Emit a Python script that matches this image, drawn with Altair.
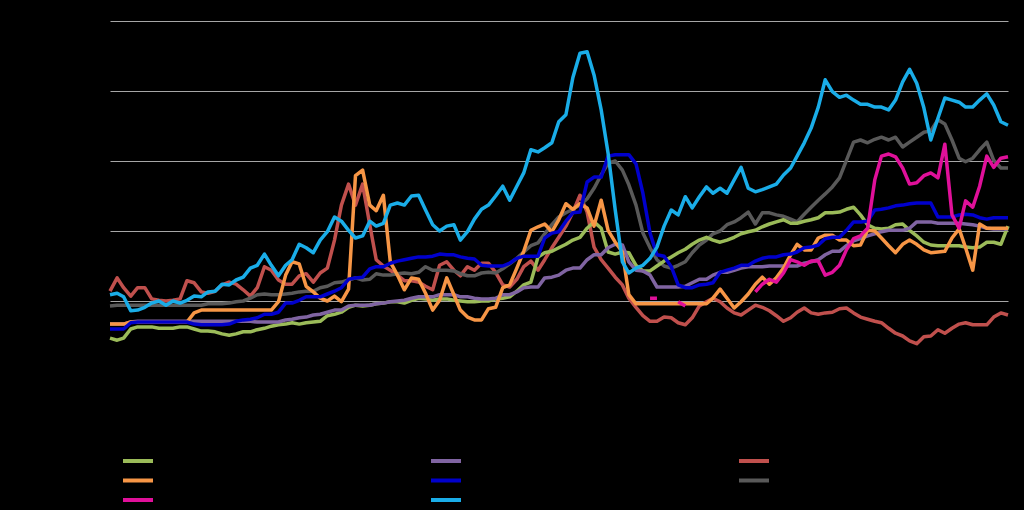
import altair as alt
import pandas as pd

months = pd.date_range("2003-01-01", periods=129, freq="MS").strftime("%Y-%m-%d").tolist()

series_names = ["Series 1", "Series 2", "Series 3", "Series 4",
                "Series 5", "Series 6", "Series 7", "Series 8"]

s1_green = [4.7, 4.4, 4.7, 6.0, 6.3, 6.3, 6.3, 6.1, 6.1, 6.1, 6.3, 6.3, 6.0, 5.7, 5.7, 5.6, 5.3, 5.1, 5.3, 5.6,
            5.6, 5.9, 6.1, 6.4, 6.6, 6.7, 6.9, 6.7, 6.9, 7.0, 7.1, 7.9, 8.1, 8.4, 9.1, 9.4, 9.3, 9.4, 9.6, 9.7,
            9.9, 9.9, 9.7, 10.1, 10.4, 10.3, 10.1, 10.3, 10.3, 10.1, 10.0, 9.9, 9.9, 10.0, 10.0, 10.3, 10.4, 10.6, 11.4, 12.3,
            12.7, 16.3, 16.9, 17.1, 17.6, 18.1, 18.7, 19.1, 20.4, 21.3, 20.4, 17.0, 16.7, 17.0, 16.9, 15.1, 14.3, 14.3, 15.0, 15.7,
            16.3, 16.9, 17.4, 18.1, 18.7, 19.1, 18.7, 18.4, 18.7, 19.1, 19.6, 19.9, 20.1, 20.6, 21.0, 21.3, 21.6, 21.1, 21.1, 21.4,
            21.6, 21.9, 22.6, 22.6, 22.7, 23.1, 23.4, 22.3, 20.9, 20.4, 20.3, 20.4, 20.9, 21.0, 20.1, 19.3, 18.4, 18.0, 17.9, 17.9,
            17.9, 17.9, 17.7, 17.6, 17.7, 18.4, 18.4, 18.1, 20.7]

s2_orange = [6.7, 6.7, 6.7, 7.0, 7.0, 7.0, 7.0, 7.0, 7.0, 7.0, 7.0, 7.0, 8.3, 8.7, 8.7, 8.7, 8.7, 8.7, 8.7, 8.7,
             8.7, 8.7, 8.7, 8.7, 9.9, 13.7, 15.6, 15.3, 12.1, 11.3, 10.4, 10.0, 10.7, 9.9, 11.7, 27.9, 28.7, 23.7, 22.9, 25.1,
             15.6, 13.7, 11.6, 13.3, 13.1, 11.1, 8.7, 10.1, 13.3, 10.9, 8.7, 7.7, 7.3, 7.3, 8.9, 9.1, 11.9, 12.3, 14.7, 17.1,
             20.1, 20.6, 21.0, 19.9, 21.6, 23.9, 23.1, 23.9, 23.3, 20.7, 24.4, 20.1, 18.4, 17.0, 10.9, 9.6, 9.6, 9.6, 9.6, 9.6,
             9.6, 9.6, 9.6, 9.6, 9.6, 9.6, 10.4, 11.7, 10.4, 9.0, 9.9, 11.0, 12.4, 13.4, 12.4, 13.3, 14.7, 16.6, 18.1, 17.3,
             17.3, 19.0, 19.4, 19.4, 18.7, 18.7, 17.9, 18.0, 20.1, 20.0, 19.0, 17.9, 16.9, 18.1, 18.7, 18.1, 17.3, 16.9, 17.0, 17.1,
             19.0, 20.3, 17.6, 14.4, 21.0, 20.4, 20.4, 20.4, 20.4]

s3_magenta = [None] * 77 + [10.4, 10.4, None, None, 9.9, 9.3] + [None] * 9 + [
              11.3, 12.4, 13.1, 12.7, 14.0, 15.9, 15.6, 15.1, 15.7, 15.7, 13.7, 14.1, 15.1, 17.3, 18.9, 19.3, 20.4, 27.3,
              30.7, 31.0, 30.6, 29.0, 26.7, 26.9, 27.9, 28.3, 27.6, 32.4, 22.3, 20.4, 24.3, 23.4, 26.4, 30.7, 29.1, 30.4, 30.6]

s4_purple = [6.7, 6.7, 6.7, 7.0, 7.1, 7.1, 7.1, 7.1, 7.1, 7.1, 7.1, 7.1, 7.1, 7.1, 7.1, 7.1, 7.1, 7.1, 7.1, 7.1,
             7.1, 7.0, 7.0, 7.0, 7.0, 7.3, 7.4, 7.6, 7.7, 8.0, 8.1, 8.4, 8.7, 8.7, 9.3, 9.4, 9.4, 9.4, 9.6, 9.7,
             9.9, 10.0, 10.1, 10.4, 10.6, 10.6, 10.6, 10.9, 10.9, 10.9, 10.6, 10.6, 10.4, 10.3, 10.3, 10.4, 10.9, 10.9, 11.3, 11.9,
             12.0, 12.0, 13.3, 13.4, 13.7, 14.4, 14.7, 14.7, 15.9, 16.6, 16.6, 17.6, 18.1, 18.0, 15.6, 14.4, 14.3, 13.7, 12.0, 12.0,
             12.0, 12.0, 12.1, 12.6, 13.1, 13.1, 13.7, 14.1, 14.1, 14.4, 14.7, 14.9, 14.9, 14.9, 15.0, 15.0, 15.0, 15.0, 15.0, 15.4,
             15.6, 15.9, 16.6, 17.1, 17.1, 17.9, 18.6, 18.9, 19.3, 19.6, 19.9, 20.1, 20.1, 20.1, 20.4, 21.3, 21.3, 21.3, 21.1, 21.1,
             21.1, 21.1, 21.0, 20.9, 20.7, 20.4, 20.3, 20.3, 20.3]

s5_blue = [6.0, 6.0, 6.0, 6.9, 7.0, 7.0, 7.0, 7.0, 7.0, 7.0, 7.0, 7.0, 6.7, 6.6, 6.6, 6.6, 6.6, 6.7, 7.1, 7.3,
           7.4, 7.6, 8.1, 8.1, 8.4, 9.7, 9.7, 10.1, 10.6, 10.6, 10.6, 11.0, 11.4, 11.9, 13.1, 13.3, 13.4, 14.6, 14.9, 14.9,
           15.4, 15.7, 15.9, 16.1, 16.3, 16.3, 16.4, 16.7, 16.6, 16.6, 16.3, 16.1, 16.0, 15.1, 15.0, 15.0, 15.0, 15.4, 16.1, 16.4,
           16.4, 16.4, 19.0, 19.7, 19.9, 21.4, 22.6, 22.7, 27.0, 27.7, 27.7, 30.7, 30.9, 30.9, 30.9, 29.6, 25.4, 19.7, 16.6, 16.4,
           14.9, 12.3, 11.9, 11.9, 12.3, 12.4, 12.6, 14.1, 14.4, 14.7, 15.1, 15.1, 15.7, 16.1, 16.3, 16.3, 16.6, 16.7, 17.0, 17.6,
           17.7, 18.0, 18.9, 19.1, 19.1, 20.1, 21.3, 21.3, 21.4, 23.0, 23.1, 23.3, 23.6, 23.7, 23.9, 24.0, 24.0, 24.0, 22.0, 22.0,
           22.0, 22.3, 22.4, 22.3, 21.9, 21.7, 21.9, 21.9, 21.9]

s6_cyan = [10.9, 11.1, 10.6, 8.6, 8.7, 9.1, 9.7, 10.0, 9.4, 10.0, 9.7, 10.1, 10.7, 10.6, 11.3, 11.4, 12.4, 12.3, 13.0, 13.4,
           14.7, 15.1, 16.7, 15.1, 13.6, 15.1, 15.9, 18.1, 17.6, 16.9, 18.7, 19.9, 22.0, 21.4, 20.1, 19.0, 19.3, 21.4, 20.7, 21.1,
           23.7, 24.0, 23.7, 25.0, 25.1, 23.0, 20.9, 20.0, 20.7, 20.9, 18.7, 19.9, 21.7, 23.1, 23.7, 25.0, 26.4, 24.4, 26.4, 28.3,
           31.6, 31.3, 31.9, 32.6, 35.6, 36.6, 41.9, 45.4, 45.6, 42.3, 37.3, 31.1, 23.0, 15.6, 14.0, 14.7, 15.1, 16.1, 17.7, 20.7,
           23.0, 22.3, 24.9, 23.3, 24.9, 26.3, 25.4, 26.1, 25.4, 27.3, 29.1, 26.1, 25.6, 25.9, 26.3, 26.7, 28.0, 29.0, 30.7, 32.6,
           34.7, 37.7, 41.6, 39.9, 39.1, 39.4, 38.7, 38.1, 38.1, 37.7, 37.7, 37.3, 38.7, 41.3, 43.1, 41.1, 37.6, 33.0, 36.1, 39.0,
           38.7, 38.4, 37.7, 37.7, 38.7, 39.6, 38.0, 35.6, 35.1]

s7_red = [11.4, 13.3, 11.9, 10.7, 11.9, 11.9, 10.3, 10.1, 10.0, 10.1, 10.3, 12.9, 12.6, 11.3, 11.1, 11.4, 12.3, 12.7, 12.4, 11.6,
          10.7, 11.9, 14.9, 14.4, 13.0, 12.4, 12.4, 13.6, 13.9, 12.7, 14.0, 14.7, 18.7, 23.7, 26.7, 23.7, 26.7, 20.9, 15.9, 15.0,
          14.4, 13.7, 12.9, 12.9, 12.7, 12.1, 11.6, 15.1, 15.6, 14.4, 13.6, 14.9, 14.4, 15.4, 15.4, 14.1, 12.3, 12.0, 13.1, 14.9,
          15.7, 14.4, 15.9, 17.6, 19.1, 20.7, 22.7, 25.1, 22.7, 17.7, 15.9, 14.7, 13.4, 12.3, 10.4, 9.1, 7.9, 7.1, 7.1, 7.7,
          7.6, 6.9, 6.6, 7.6, 9.3, 9.9, 10.4, 9.9, 9.0, 8.3, 8.0, 8.7, 9.4, 9.1, 8.6, 7.9, 7.1, 7.6, 8.4, 9.0,
          8.3, 8.1, 8.3, 8.4, 8.9, 9.0, 8.3, 7.7, 7.4, 7.1, 6.9, 6.1, 5.4, 5.0, 4.3, 3.9, 4.9, 5.0, 5.9, 5.4,
          6.1, 6.7, 6.9, 6.6, 6.6, 6.6, 7.7, 8.3, 8.0]

s8_gray = [9.3, 9.4, 9.4, 9.4, 9.4, 9.4, 9.4, 9.4, 9.4, 9.4, 9.4, 9.4, 9.4, 9.4, 9.6, 9.6, 9.6, 9.7, 9.9, 10.0,
           10.4, 10.9, 11.0, 10.9, 10.9, 11.0, 11.1, 11.3, 11.4, 11.4, 11.9, 12.1, 12.6, 12.7, 13.0, 13.3, 13.0, 13.1, 13.9, 13.7,
           13.7, 13.9, 14.0, 13.9, 14.1, 14.9, 14.4, 14.4, 14.4, 14.3, 13.9, 13.6, 13.6, 14.0, 14.1, 14.0, 14.6, 15.3, 16.1, 17.0,
           17.9, 18.3, 19.6, 20.9, 22.0, 22.6, 23.1, 23.7, 24.6, 26.1, 28.0, 29.7, 30.0, 28.7, 26.6, 23.7, 19.7, 17.6, 15.9, 15.0,
           14.7, 15.1, 15.6, 16.9, 18.0, 18.7, 19.6, 20.0, 20.9, 21.3, 21.9, 22.7, 21.0, 22.6, 22.6, 22.3, 22.1, 21.7, 21.3, 22.4,
           23.4, 24.4, 25.3, 26.3, 27.6, 30.1, 32.7, 33.0, 32.6, 33.1, 33.4, 33.0, 33.4, 32.0, 32.7, 33.4, 34.1, 34.3, 35.9, 35.3,
           33.0, 30.4, 29.9, 30.4, 31.6, 32.7, 30.1, 29.0, 29.0]

colors = {
    "Series 1": "#9BBB59",
    "Series 2": "#F79646",
    "Series 3": "#E0109A",
    "Series 4": "#8064A2",
    "Series 5": "#0000CC",
    "Series 6": "#1AADE8",
    "Series 7": "#C0504D",
    "Series 8": "#595959",
}
values = {
    "Series 1": s1_green, "Series 2": s2_orange, "Series 3": s3_magenta, "Series 4": s4_purple,
    "Series 5": s5_blue, "Series 6": s6_cyan, "Series 7": s7_red, "Series 8": s8_gray,
}

# drawing order (last on top)
draw_order = ["Series 7", "Series 8", "Series 1", "Series 4", "Series 2", "Series 5", "Series 3", "Series 6"]

rows = []
for name in draw_order:
    for m, v in zip(months, values[name]):
        rows.append({"month": m, "series": name, "value": v})
df = pd.DataFrame(rows)

chart = alt.Chart(df).mark_line(strokeWidth=3.5, strokeJoin="round", strokeCap="butt").encode(
    x=alt.X("month:T", title=None,
            scale=alt.Scale(domain=[months[0], months[-1]], nice=False),
            axis=alt.Axis(grid=False, domain=False, ticks=False, labelColor="black",
                          format="%b %Y", labelAngle=-90)),
    y=alt.Y("value:Q", title=None,
            scale=alt.Scale(domain=[0, 50], nice=False),
            axis=alt.Axis(values=[10, 20, 30, 40, 50], grid=True, gridColor="#A6A6A6", gridWidth=1,
                          domain=False, ticks=False, labelColor="black")),
    color=alt.Color("series:N", title=None,
                    scale=alt.Scale(domain=series_names, range=[colors[n] for n in series_names]),
                    legend=alt.Legend(orient="none", legendX=21, legendY=433, columns=3, direction="vertical",
                                      symbolType="M-3,0H3", symbolSize=100, symbolStrokeWidth=4,
                                      labelColor="black", labelFontSize=12, labelOffset=26,
                                      columnPadding=207, rowPadding=3.5, padding=0,
                                      gridAlign="all")),
    detail="series:N",
).properties(
    width=898, height=350,
    autosize=alt.AutoSizeParams(type="none"),
    padding={"left": 110, "top": 21, "right": 16, "bottom": 139},
).configure(background="black").configure_view(stroke=None)

chart.save("out.html", embed_options={"renderer": "svg", "actions": False})
